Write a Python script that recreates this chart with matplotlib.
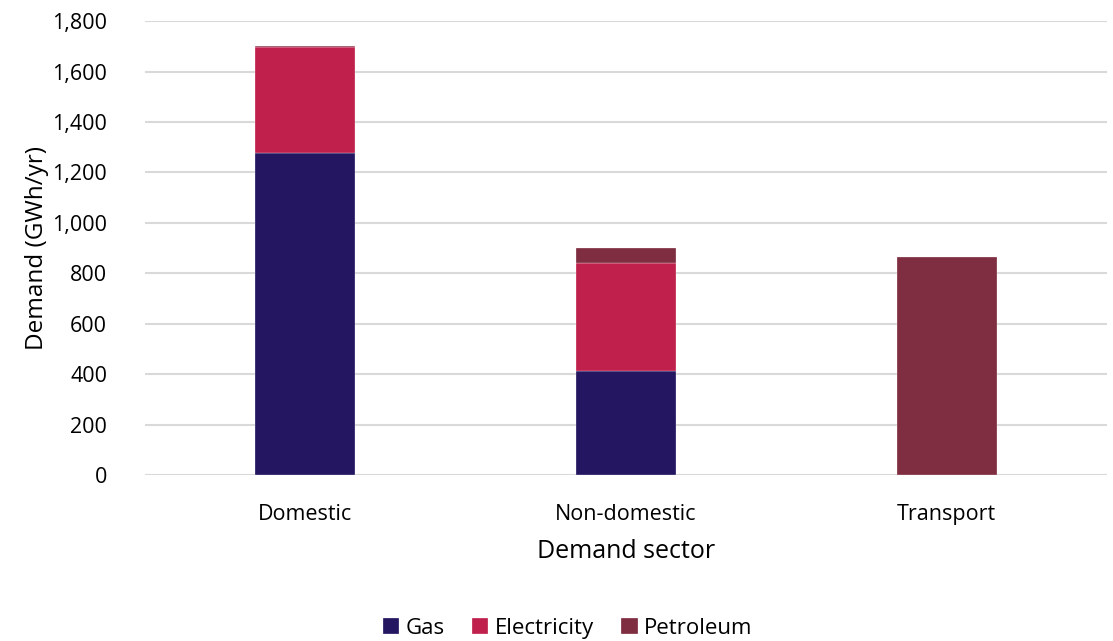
import numpy as np
import matplotlib.pyplot as plt
from matplotlib.ticker import FuncFormatter

plt.rcParams['font.family'] = ['Open Sans', 'DejaVu Sans']

# Energy demand by sector (GWh/yr)
sectors = ['Domestic', 'Non-domestic', 'Transport']
gas = [1277, 412, 0]
electricity = [420, 427, 0]
petroleum = [5, 60, 865]

colors = {'Gas': '#241660', 'Electricity': '#C0214C', 'Petroleum': '#7F2D40'}

fig = plt.figure(figsize=(11.13, 6.41), dpi=100)
ax = fig.add_axes([0.130, 0.259, 0.8646, 0.708])

x = np.arange(len(sectors))
w = 0.312
bottom = np.zeros(len(sectors))
for name, vals in [('Gas', gas), ('Electricity', electricity), ('Petroleum', petroleum)]:
    ax.bar(x, vals, w, bottom=bottom, color=colors[name], label=name, zorder=3,
           edgecolor='white', linewidth=0.2)
    bottom += np.array(vals)

ax.set_xlim(-0.5, 2.5)
ax.set_ylim(0, 1800)
ax.set_yticks(np.arange(0, 1801, 200))
ax.yaxis.set_major_formatter(FuncFormatter(lambda v, p: f'{int(v):,}'))
ax.set_xticks(x)
ax.set_xticklabels(sectors)
ax.grid(axis='y', color='#D9D9D9', linewidth=1.5, zorder=0)
for s in ax.spines.values():
    s.set_visible(False)
ax.tick_params(axis='both', length=0, labelsize=15.5, colors='#000000')
ax.tick_params(axis='y', pad=27)
ax.tick_params(axis='x', pad=21)

ax.set_ylabel('Demand (GWh/yr)', fontsize=17.5, labelpad=2)
ax.set_xlabel('Demand sector', fontsize=18, labelpad=10)

fig.legend(loc='center', bbox_to_anchor=(0.51, 0.02), ncol=3, frameon=False,
           fontsize=16, handlelength=0.75, handleheight=0.75, handletextpad=0.3,
           columnspacing=1.2)

fig.savefig('out.png', dpi=100)
